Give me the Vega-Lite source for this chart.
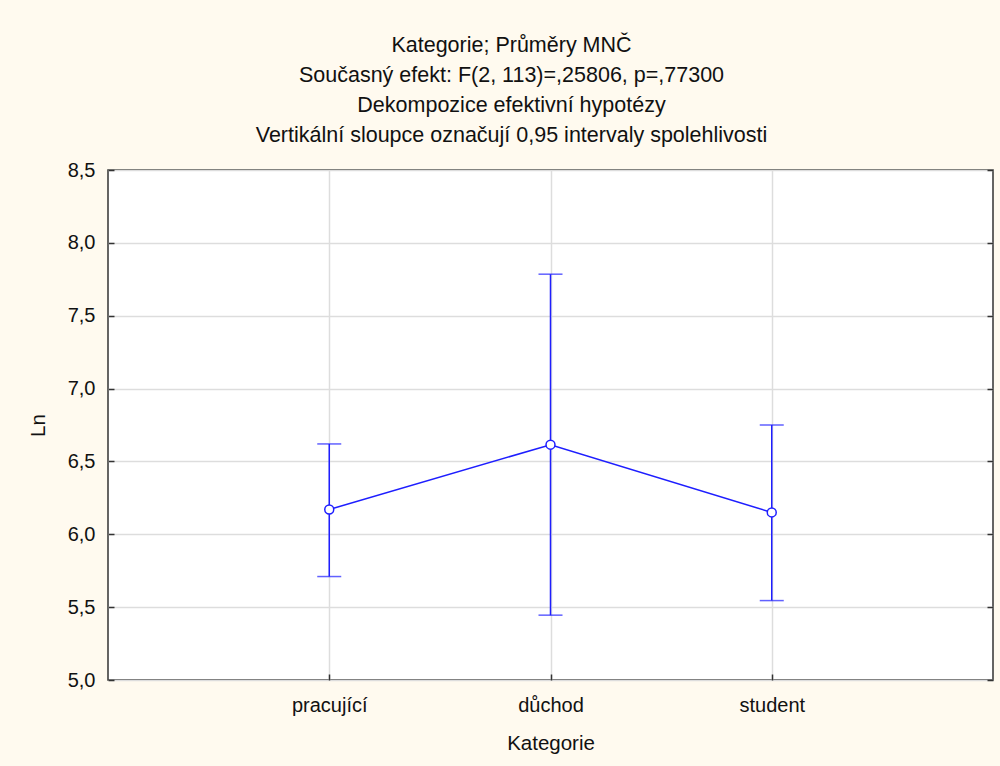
{
  "$schema": "https://vega.github.io/schema/vega-lite/v6.json",
  "width": 885,
  "height": 510,
  "autosize": {"type": "none"},
  "padding": {"left": 108, "top": 170, "right": 7, "bottom": 86},
  "background": "#fffaef",
  "config": {
    "font": "Liberation Sans",
    "view": {"stroke": "#333333", "strokeWidth": 1.5, "fill": "white"},
    "axis": {
      "labelFont": "Liberation Sans",
      "titleFont": "Liberation Sans",
      "labelFontSize": 20,
      "titleFontSize": 20.5,
      "titleFontWeight": "normal",
      "labelColor": "#111111",
      "titleColor": "#111111",
      "gridColor": "#dddddd",
      "gridWidth": 1.5,
      "gridOpacity": 1,
      "domain": false,
      "tickColor": "#333333",
      "tickWidth": 1.5
    }
  },
  "title": {
    "text": [
      "Kategorie; Průměry MNČ",
      "Současný efekt: F(2, 113)=,25806, p=,77300",
      "Dekompozice efektivní hypotézy",
      "Vertikální sloupce označují 0,95 intervaly spolehlivosti"
    ],
    "anchor": "middle",
    "font": "Liberation Sans",
    "fontSize": 21.5,
    "fontWeight": "normal",
    "color": "#111111",
    "lineHeight": 30,
    "offset": 14,
    "dx": -39
  },
  "data": {
    "values": [
      {"Kategorie": "pracující", "mean": 6.17, "lower": 5.71, "upper": 6.62},
      {"Kategorie": "důchod", "mean": 6.615, "lower": 5.445, "upper": 7.785},
      {"Kategorie": "student", "mean": 6.15, "lower": 5.545, "upper": 6.75}
    ]
  },
  "encoding": {
    "x": {
      "field": "Kategorie",
      "type": "nominal",
      "sort": ["pracující", "důchod", "student"],
      "scale": {"type": "point", "padding": 1},
      "axis": {"labelAngle": 0, "tickSize": -6, "labelPadding": 21, "titleY": 53, "title": "Kategorie", "grid": true}
    }
  },
  "resolve": {"axis": {"y": "independent"}},
  "layer": [
    {
      "mark": {"type": "rule", "color": "#1e1eff", "strokeWidth": 1.5},
      "encoding": {
        "y": {
          "field": "lower",
          "type": "quantitative",
          "scale": {"domain": [5, 8.5], "nice": false, "zero": false},
          "axis": {
            "title": "Ln",
            "orient": "left",
            "values": [5, 5.5, 6, 6.5, 7, 7.5, 8, 8.5],
            "labelExpr": "replace(format(datum.value, '.1f'), '.', ',')",
            "tickSize": -6,
            "labelPadding": 19,
            "titleX": -60,
            "grid": true
          }
        },
        "y2": {"field": "upper"}
      }
    },
    {
      "mark": {"type": "tick", "color": "#1e1eff", "thickness": 1.5, "size": 24},
      "encoding": {
        "y": {
          "field": "upper",
          "type": "quantitative",
          "axis": {
            "orient": "right",
            "values": [5, 5.5, 6, 6.5, 7, 7.5, 8, 8.5],
            "labels": false,
            "title": null,
            "grid": false,
            "tickSize": -6
          }
        }
      }
    },
    {
      "mark": {"type": "tick", "color": "#1e1eff", "thickness": 1.5, "size": 24},
      "encoding": {"y": {"field": "lower", "type": "quantitative", "axis": null}}
    },
    {
      "mark": {"type": "line", "color": "#1e1eff", "strokeWidth": 1.5},
      "encoding": {"y": {"field": "mean", "type": "quantitative", "axis": null}}
    },
    {
      "mark": {"type": "point", "shape": "circle", "filled": true, "fill": "white", "stroke": "#1e1eff", "strokeWidth": 1.5, "size": 80, "opacity": 1},
      "encoding": {"y": {"field": "mean", "type": "quantitative", "axis": null}}
    }
  ]
}
